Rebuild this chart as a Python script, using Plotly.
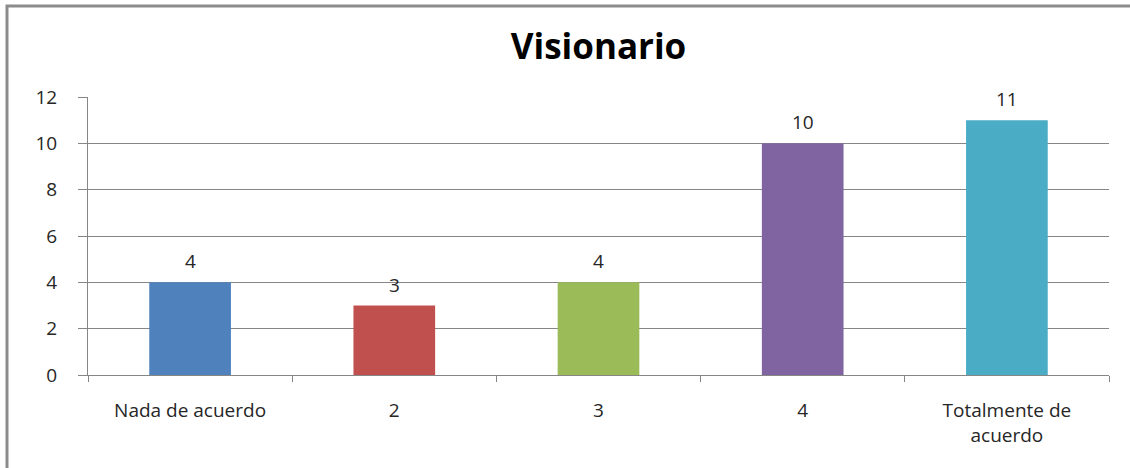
import plotly.graph_objects as go

categories = ["Nada de acuerdo", "2", "3", "4", "Totalmente de<br>acuerdo"]
values = [4, 3, 4, 10, 11]
colors = ["#4F81BD", "#C0504D", "#9BBB59", "#8064A2", "#4BACC6"]
y_ticks = [0, 2, 4, 6, 8, 10, 12]

font_family = "Open Sans, Liberation Sans, sans-serif"

fig = go.Figure(
    go.Bar(
        x=categories,
        y=values,
        marker=dict(color=colors, line=dict(width=0)),
        width=0.4,
        cliponaxis=False,
    )
)

# category axis: annotation x given as the category's index position
for i, v in enumerate(values):
    fig.add_annotation(
        x=i,
        y=v,
        xref="x",
        yref="y",
        text=str(v),
        showarrow=False,
        yanchor="middle",
        yshift=21,
        font=dict(size=19, color="#262626", family=font_family),
    )

fig.update_layout(
    width=1130,
    height=468,
    margin=dict(l=88, r=21, t=97, b=93),
    paper_bgcolor="white",
    plot_bgcolor="white",
    showlegend=False,
    title=dict(
        text="<b>Visionario</b>",
        x=0.5,
        xref="paper",
        y=1 - 47 / 468,
        yanchor="middle",
        font=dict(size=35, color="#000000", family=font_family),
    ),
    font=dict(family=font_family, size=19, color="#262626"),
    shapes=[
        dict(
            type="rect",
            xref="paper",
            yref="paper",
            x0=(7 - 88) / 1021,
            x1=(1140 - 88) / 1021,
            y0=(375 - 480) / 278,
            y1=(375 - 6) / 278,
            line=dict(color="#8c8c8c", width=3),
            fillcolor="rgba(0,0,0,0)",
            layer="below",
        )
    ],
)

fig.update_xaxes(
    type="category",
    tickson="boundaries",
    ticks="outside",
    ticklen=6,
    tickcolor="#868686",
    showline=True,
    linecolor="#868686",
    linewidth=1,
    showgrid=False,
    ticklabelstandoff=18,
    tickfont=dict(size=19, color="#262626"),
)

fig.update_yaxes(
    range=[0, 12],
    tickvals=y_ticks,
    ticks="outside",
    ticklen=9,
    tickcolor="#868686",
    showline=True,
    linecolor="#868686",
    linewidth=1,
    showgrid=True,
    gridcolor="#868686",
    gridwidth=1,
    zeroline=False,
    ticklabelstandoff=17,
    tickfont=dict(size=19, color="#262626"),
)

fig.write_html("out.html")
